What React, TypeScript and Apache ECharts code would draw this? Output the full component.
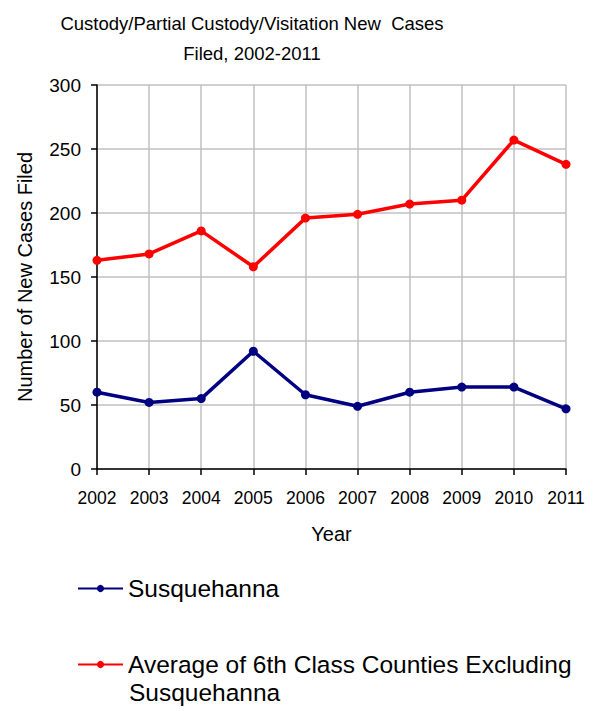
import React, { useEffect, useRef } from "react";
import * as echarts from "echarts";

const years = ["2002", "2003", "2004", "2005", "2006", "2007", "2008", "2009", "2010", "2011"];
const susquehanna = [60, 52, 55, 92, 58, 49, 60, 64, 64, 47];
const averageSixthClass = [163, 168, 186, 158, 196, 199, 207, 210, 257, 238];
const yTicks = { min: 0, max: 300, interval: 50 };

const SUSQ_NAME = "Susquehanna";
const AVG_NAME = "Average of 6th Class Counties Excluding Susquehanna";
const FONT = "'Liberation Sans', Arial, sans-serif";

export default function App() {
  const ref = useRef<HTMLDivElement>(null);
  useEffect(() => {
    document.body.style.margin = "0";
    if (!ref.current) return;
    const chart = echarts.init(ref.current, undefined, { renderer: "svg" });
    chart.setOption({
      animation: false,
      backgroundColor: "#ffffff",
      textStyle: { fontFamily: FONT },
      title: {
        text: "Custody/Partial Custody/Visitation New  Cases\nFiled, 2002-2011",
        left: 252,
        top: 8,
        padding: 0,
        textAlign: "center",
        textStyle: { fontFamily: FONT, fontSize: 18.5, fontWeight: "normal", color: "#000", lineHeight: 30 },
      },
      grid: { left: 97, right: 38, top: 85, bottom: 242, containLabel: false },
      xAxis: {
        type: "category",
        data: years,
        boundaryGap: false,
        name: "Year",
        nameLocation: "middle",
        nameGap: 55,
        nameTextStyle: { fontFamily: FONT, fontSize: 20, color: "#000", verticalAlign: "top" },
        axisLine: { lineStyle: { color: "#000", width: 1.5 } },
        axisTick: { show: true, length: 6, lineStyle: { color: "#000", width: 1.5 } },
        axisLabel: { fontFamily: FONT, fontSize: 17.5, color: "#000", margin: 20, interval: 0 },
        splitLine: { show: true, lineStyle: { color: "#c0c0c0", width: 1.5 } },
      },
      yAxis: {
        type: "value",
        min: yTicks.min,
        max: yTicks.max,
        interval: yTicks.interval,
        name: "Number of New Cases Filed",
        nameLocation: "middle",
        nameRotate: 90,
        nameGap: 62,
        nameTextStyle: { fontFamily: FONT, fontSize: 20, color: "#000" },
        axisLine: { show: true, lineStyle: { color: "#000", width: 1.5 } },
        axisTick: { show: true, length: 6, lineStyle: { color: "#000", width: 1.5 } },
        axisLabel: { fontFamily: FONT, fontSize: 19, color: "#000", margin: 16 },
        splitLine: { show: true, lineStyle: { color: "#c0c0c0", width: 1.5 } },
      },
      legend: {
        orient: "vertical",
        left: 77,
        top: 576,
        padding: 0,
        itemWidth: 45,
        itemHeight: 9,
        itemGap: 51,
        data: [SUSQ_NAME, AVG_NAME],
        formatter: (name: string) => (name === AVG_NAME ? "Average of 6th Class Counties Excluding" : name),
        textStyle: { fontFamily: FONT, fontSize: 24.5, color: "#000", lineHeight: 24 },
      },
      graphic: [
        {
          type: "text",
          left: 129,
          top: 680,
          style: { text: "Susquehanna", fontFamily: FONT, fontSize: 24.5, fill: "#000" },
        },
      ],
      series: [
        {
          name: SUSQ_NAME,
          type: "line",
          data: susquehanna,
          symbol: "circle",
          symbolSize: 9,
          color: "#000080",
          lineStyle: { width: 3.5, color: "#000080" },
          itemStyle: { color: "#000080" },
        },
        {
          name: AVG_NAME,
          type: "line",
          data: averageSixthClass,
          symbol: "circle",
          symbolSize: 9,
          color: "#ff0000",
          lineStyle: { width: 3.5, color: "#ff0000" },
          itemStyle: { color: "#ff0000" },
        },
      ],
    });
    return () => chart.dispose();
  }, []);
  return <div ref={ref} style={{ width: 604, height: 711 }} />;
}
